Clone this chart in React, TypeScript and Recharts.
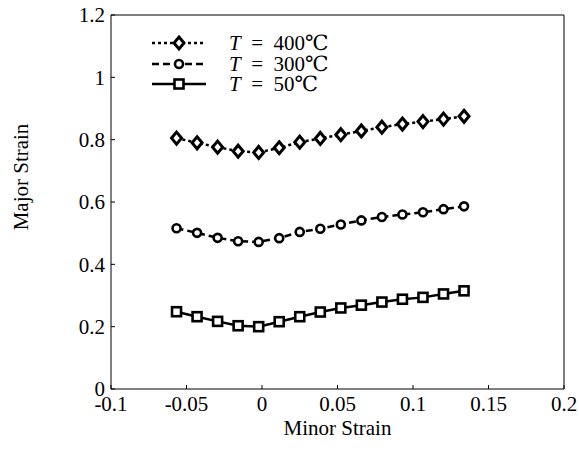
import { Legend, Line, LineChart, XAxis, YAxis } from "recharts";

// minor strain positions (shared by all three curves)
const minorStrain = [
  -0.0566, -0.043, -0.0294, -0.0158, -0.0022, 0.0114, 0.025, 0.0386, 0.0522, 0.0658, 0.0794, 0.093,
  0.1066, 0.1202, 0.1338,
];
const major400 = [
  0.805, 0.79, 0.776, 0.763, 0.759, 0.774, 0.792, 0.804, 0.816, 0.828, 0.84, 0.85, 0.858, 0.866, 0.875,
];
const major300 = [
  0.516, 0.501, 0.485, 0.474, 0.472, 0.484, 0.504, 0.514, 0.528, 0.541, 0.552, 0.56, 0.567, 0.577, 0.586,
];
const major50 = [
  0.248, 0.232, 0.217, 0.203, 0.2, 0.216, 0.232, 0.247, 0.26, 0.269, 0.279, 0.288, 0.294, 0.305, 0.315,
];
const xTicks = [-0.1, -0.05, 0, 0.05, 0.1, 0.15, 0.2];
const yTicks = [0, 0.2, 0.4, 0.6, 0.8, 1, 1.2];
const seriesLabels = ["400℃", "300℃", "50℃"];

const data = minorStrain.map((x, i) => ({ x, t400: major400[i], t300: major300[i], t50: major50[i] }));

const FONT = "Liberation Serif, Times New Roman, DejaVu Serif, serif";
const tickStyle = { fontFamily: FONT, fontSize: 21, fill: "#000" };

const Diamond = ({ cx, cy }: any) =>
  cx == null ? null : (
    <path
      d={`M${cx},${cy - 6}L${cx + 5},${cy}L${cx},${cy + 6}L${cx - 5},${cy}Z`}
      fill="#fff"
      stroke="#000"
      strokeWidth={3}
    />
  );
const Circle = ({ cx, cy }: any) =>
  cx == null ? null : <circle cx={cx} cy={cy} r={4} fill="#fff" stroke="#000" strokeWidth={2.6} />;
const Square = ({ cx, cy }: any) =>
  cx == null ? null : (
    <rect x={cx - 4.5} y={cy - 4.5} width={9} height={9} fill="#fff" stroke="#000" strokeWidth={2.6} />
  );

const legendRows = [
  { dash: "3 3", Marker: Diamond },
  { dash: "7 4", Marker: Circle },
  { dash: undefined, Marker: Square },
];

function LegendBox() {
  return (
    <div style={{ fontFamily: FONT, fontSize: 21, lineHeight: "20px", color: "#000" }}>
      {legendRows.map((r, i) => (
        <div key={i} style={{ display: "flex", alignItems: "center", height: 20.5 }}>
          <svg width={56} height={20} style={{ display: "block" }}>
            <line x1={1} x2={55} y1={10} y2={10} stroke="#000" strokeWidth={2.5} strokeDasharray={r.dash} />
            <r.Marker cx={28} cy={10} />
          </svg>
          <span style={{ marginLeft: 22, whiteSpace: "nowrap" }}>
            <i>T</i>
            {"\u2002=\u2002"}
            {seriesLabels[i]}
          </span>
        </div>
      ))}
    </div>
  );
}

export default function App() {
  return (
    <div style={{ position: "absolute", left: 0, top: 0, width: 579, height: 450, background: "#fff" }}>
      <LineChart width={579} height={450} data={data} margin={{ top: 14, right: 14, bottom: 0, left: 41 }}>
        <XAxis
          dataKey="x"
          type="number"
          domain={[-0.1, 0.2]}
          ticks={xTicks}
          interval={0}
          height={61}
          tickSize={-4}
          tickMargin={11}
          stroke="#000"
          tick={tickStyle}
          label={{
            value: "Minor Strain",
            position: "insideBottom",
            offset: 15,
            style: { fontFamily: FONT, fontSize: 21, fill: "#000" },
          }}
        />
        <XAxis
          xAxisId="top"
          orientation="top"
          dataKey="x"
          type="number"
          domain={[-0.1, 0.2]}
          ticks={xTicks}
          interval={0}
          height={1}
          tickSize={-4}
          tick={false}
          stroke="#000"
        />
        <YAxis
          type="number"
          domain={[0, 1.2]}
          ticks={yTicks}
          interval={0}
          width={70}
          tickSize={-4}
          tickMargin={10}
          stroke="#000"
          tick={tickStyle}
          label={{
            content: ({ viewBox }: any) => (
              <text
                x={viewBox.x - 20}
                y={viewBox.y + 162}
                transform={`rotate(-90, ${viewBox.x - 20}, ${viewBox.y + 162})`}
                textAnchor="middle"
                dominantBaseline="central"
                style={{ fontFamily: FONT, fontSize: 21, fill: "#000" }}
              >
                Major Strain
              </text>
            ),
          }}
        />
        <YAxis
          yAxisId="right"
          orientation="right"
          type="number"
          domain={[0, 1.2]}
          ticks={yTicks}
          interval={0}
          width={1}
          tickSize={-4}
          tick={false}
          stroke="#000"
        />
        <Legend
          layout="vertical"
          align="center"
          verticalAlign="middle"
          wrapperStyle={{ left: 151, top: 33, width: 220 }}
          content={() => <LegendBox />}
        />
        <Line
          dataKey="t400"
          stroke="#000"
          strokeWidth={2.5}
          strokeDasharray="3 3"
          dot={<Diamond />}
          isAnimationActive={false}
        />
        <Line
          dataKey="t300"
          stroke="#000"
          strokeWidth={2.5}
          strokeDasharray="7 4"
          dot={<Circle />}
          isAnimationActive={false}
        />
        <Line dataKey="t50" stroke="#000" strokeWidth={2.5} dot={<Square />} isAnimationActive={false} />
      </LineChart>
    </div>
  );
}
